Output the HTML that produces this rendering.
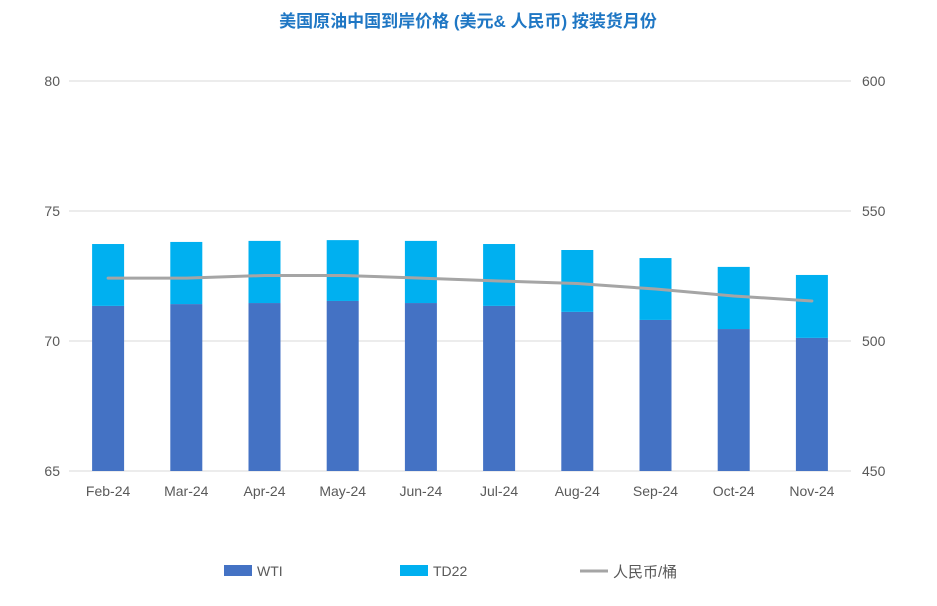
<!DOCTYPE html>
<html><head><meta charset="utf-8">
<style>
body{margin:0;background:#fff;font-family:"Liberation Sans","Noto Sans CJK SC",sans-serif;}
svg text{font-family:"Liberation Sans","Noto Sans CJK SC",sans-serif;}
</style></head>
<body>
<svg id="chart" width="937" height="601" xmlns="http://www.w3.org/2000/svg">
<text x="468" y="27" text-anchor="middle" font-size="17" font-weight="bold" fill="#1f77c4">美国原油中国到岸价格 (美元&amp; 人民币) 按装货月份</text>
<g id="grid"></g><g id="bars"></g><g id="line"></g><g id="axes"></g>
<g>
<rect x="224" y="565" width="28" height="11" fill="#4472c4"/>
<text x="257" y="576" font-size="14" fill="#595959">WTI</text>
<rect x="400" y="565" width="28" height="11" fill="#00b0f0"/>
<text x="433" y="576" font-size="14" fill="#595959">TD22</text>
<line x1="580" y1="571" x2="608" y2="571" stroke="#a5a5a5" stroke-width="3"/>
<text x="613" y="577" font-size="15" fill="#595959">人民币/桶</text>
</g>
</svg>
<script>
const categories=["Feb-24","Mar-24","Apr-24","May-24","Jun-24","Jul-24","Aug-24","Sep-24","Oct-24","Nov-24"];
const wti=[71.35,71.42,71.46,71.54,71.46,71.35,71.12,70.81,70.46,70.12];
const td22=[2.38,2.39,2.39,2.34,2.39,2.38,2.38,2.38,2.39,2.42];
const rmb=[524.2,524.2,525.2,525.2,524.2,523.1,522.1,520.0,517.3,515.4];
const leftTicks=[65,70,75,80];
const rightTicks=[450,500,550,600];
const NS="http://www.w3.org/2000/svg";
const X0=69,X1=851,Y0=471,Y1=81;
const yL=v=>Y0-(v-65)/15*(Y0-Y1);
const yR=v=>Y0-(v-450)/150*(Y0-Y1);
const band=(X1-X0)/categories.length;
const xC=i=>X0+band*(i+0.5);
function mk(tag,attrs,parent,txt){const e=document.createElementNS(NS,tag);for(const k in attrs)e.setAttribute(k,attrs[k]);if(txt!==undefined)e.textContent=txt;document.getElementById(parent).appendChild(e);return e;}
leftTicks.forEach((t,i)=>{
  const g=mk('line',{x1:X0,x2:X1,y1:yL(t),y2:yL(t),stroke:'#d9d9d9','stroke-width':1},'grid');
  
  
  const l=mk('text',{x:60,y:yL(t)+5,'text-anchor':'end','font-size':14,fill:'#595959'},'axes',t);
  
  
});
rightTicks.forEach(t=>{
  const l=mk('text',{x:862,y:yR(t)+5,'font-size':14,fill:'#595959'},'axes',t);
  
  
});
const bw=32;
categories.forEach((c,i)=>{
  const b1=mk('rect',{x:xC(i)-bw/2,y:yL(wti[i]),width:bw,height:yL(65)-yL(wti[i]),fill:'#4472c4'},'bars');
  
  
  const top=wti[i]+td22[i];
  const b2=mk('rect',{x:xC(i)-bw/2,y:yL(top),width:bw,height:yL(wti[i])-yL(top),fill:'#00b0f0'},'bars');
  
  
  const l=mk('text',{x:xC(i),y:496,'text-anchor':'middle','font-size':14,fill:'#595959'},'axes',c);
  
  
});
const pl=mk('polyline',{points:rmb.map((v,i)=>xC(i)+','+yR(v)).join(' '),fill:'none',stroke:'#a5a5a5','stroke-width':3,'stroke-linejoin':'round','stroke-linecap':'round'},'line');


</script>
</body></html>
